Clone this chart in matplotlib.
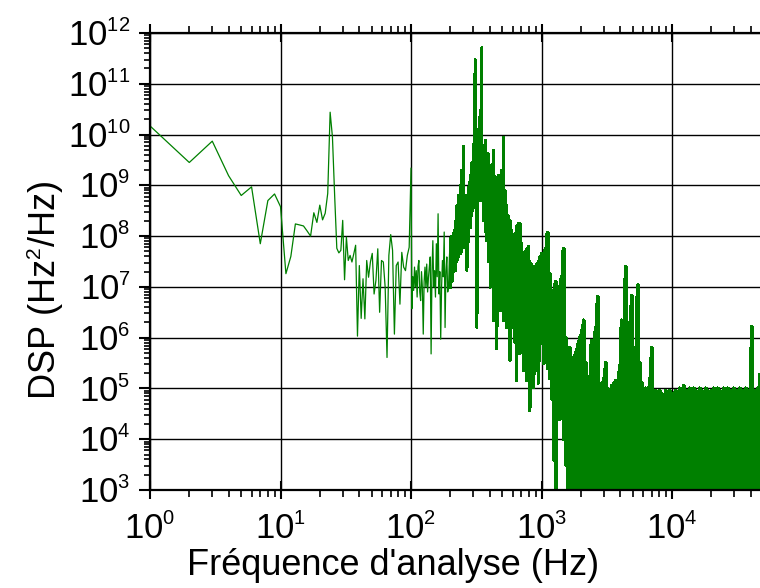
import numpy as np
import matplotlib
matplotlib.use("Agg")
import matplotlib.pyplot as plt
import matplotlib._mathtext as mathtext
from matplotlib.ticker import LogLocator, NullFormatter

plt.rcParams['font.family'] = ['Liberation Sans', 'DejaVu Sans']
plt.rcParams['mathtext.fontset'] = 'custom'
plt.rcParams['mathtext.rm'] = 'Liberation Sans'
plt.rcParams['mathtext.it'] = 'Liberation Sans:italic'
plt.rcParams['mathtext.bf'] = 'Liberation Sans:bold'
plt.rcParams['path.simplify'] = False
# exposants plus petits, comme sur l'original
mathtext.SHRINK_FACTOR = 0.58

# DSP, en exposant log10 (valeur = 10**exposant)

# 1 a 28 Hz, pas de 1 Hz
f_bas = np.arange(1, 29)
dsp_bas = [10.17, 9.45, 9.87, 9.19, 8.80, 8.97, 7.85, 8.70, 8.83, 8.58,
           7.26, 7.60, 8.24, 8.22, 8.20, 8.10, 8.00, 8.46, 8.27, 8.61,
           8.32, 8.45, 8.84, 10.44, 9.95, 8.79, 7.76, 7.67]

# 29 a 100 Hz
dsp_a1 = [7.72, 8.31, 7.14, 7.98, 7.52, 7.62, 7.49, 7.65, 7.82, 6.03,
          7.42, 6.38, 7.16, 6.37, 7.52, 7.19, 7.49, 7.66, 6.86, 7.13,
          7.75, 6.50, 7.52, 7.49, 6.99, 5.61, 7.62, 8.03, 7.72, 6.07,
          7.42, 7.49, 6.66, 7.68, 7.39, 7.32, 7.62, 7.78]

# 100 a 200 Hz (raie a 100 Hz en tete)
dsp_a2 = [9.34, 6.57, 7.20, 6.93, 7.39, 7.00, 7.32, 6.80, 7.40, 7.52,
          6.90, 6.73, 7.30, 6.99, 6.07, 7.10, 7.39, 7.00, 7.45, 6.90,
          7.19, 7.40, 7.59, 5.68, 7.30, 7.91, 7.00, 7.32, 6.80, 7.85,
          7.20, 8.44, 6.86, 7.30, 5.97, 7.00, 7.52, 7.20, 8.08, 6.20,
          7.30, 7.59, 6.90, 6.99, 7.60]

# 200 a 1000 Hz : enveloppe haute / basse du bruit
haut_b = [7.95, 8.00, 8.05, 8.28, 8.60, 8.80, 9.00, 9.30, 9.77, 8.80,
          8.64, 8.97, 9.20, 9.45, 9.80, 11.47, 9.89, 10.10, 10.48, 11.71,
          9.60, 9.89, 9.30, 9.62, 8.90, 9.40, 9.69, 9.17, 9.10, 9.20,
          9.00, 9.30, 9.95, 8.90, 8.60, 8.40, 8.30, 8.12, 7.90, 8.05,
          8.20, 8.25, 8.25, 7.86, 7.50, 7.70, 7.75, 7.80, 7.50, 7.45,
          7.40, 7.33, 7.45, 7.50, 7.59]
bas_b = [6.99, 7.10, 7.30, 7.32, 7.50, 7.60, 7.65, 7.70, 7.78, 7.90,
         7.32, 7.90, 8.17, 8.40, 8.57, 8.70, 6.20, 8.70, 8.75, 8.70,
         8.31, 8.10, 7.91, 7.50, 6.99, 7.20, 6.34, 7.00, 5.78, 6.90,
         6.53, 6.80, 6.34, 6.60, 6.20, 6.50, 5.55, 6.20, 6.34, 5.90,
         5.15, 6.00, 5.68, 5.90, 5.35, 5.80, 5.15, 5.60, 4.56, 5.40,
         5.02, 5.30, 5.35, 5.10, 5.55]

# 1 kHz a 47 kHz
haut_c = [7.65, 7.60, 7.75, 8.06, 7.26, 6.93, 6.80, 7.10, 6.67, 7.00,
          7.20, 7.75, 6.00, 5.75, 5.80, 5.61, 5.55, 5.70, 5.85, 6.00,
          6.14, 6.34, 5.50, 5.22, 5.10, 5.94, 5.55, 6.20, 6.80, 5.10,
          4.96, 5.20, 5.50, 5.00, 4.83, 5.05, 5.10, 5.15, 5.05, 5.45,
          6.34, 6.30, 7.39, 6.30, 6.00, 6.82, 5.80, 5.30, 7.03, 5.50,
          5.10, 4.95, 5.00, 4.90, 5.20, 5.80, 4.85, 4.95, 4.90, 4.95,
          4.90, 4.85, 4.95, 4.90, 4.95, 4.85, 4.90, 4.95, 4.90, 5.00,
          4.95, 5.05, 4.90, 4.95, 5.00, 4.90, 5.00, 4.95, 4.90, 5.00,
          4.95, 4.90, 5.00, 4.95, 4.85, 4.95, 5.00, 4.90, 5.00, 4.95,
          4.90, 5.00, 4.95, 5.00, 4.90, 4.95, 5.00, 4.90, 4.95, 5.00,
          4.90, 4.95, 5.00, 4.90, 4.95, 6.21, 4.90, 4.95, 5.00, 5.27]
bas_c = [5.90, 5.50, 5.80, 5.40, 5.20, 4.80, 3.60, 3.00, 4.50, 4.40,
         4.60, 4.00, 3.50, 2.80, 3.30, 2.50, 3.60, 2.70, 3.40, 2.60,
         3.20, 2.50, 3.50, 2.70, 3.10, 2.40, 3.60, 2.60, 3.00, 2.50,
         3.30, 2.60, 2.90, 3.40, 2.50, 2.80, 3.20, 2.40, 2.70, 3.00,
         2.50, 2.50, 2.70, 2.30, 2.80, 2.60, 2.40, 2.90, 2.50, 2.70,
         2.30, 2.60, 2.80, 2.40, 2.50, 2.90, 2.30, 2.60, 2.70, 2.40,
         2.80, 2.50, 2.30, 2.60, 2.90, 2.40, 2.70, 2.50, 2.30, 2.80,
         2.60, 2.40, 2.70, 2.50, 2.90, 2.30, 2.60, 2.80, 2.40, 2.50,
         2.70, 2.30, 2.60, 2.90, 2.40, 2.50, 2.80, 2.60, 2.30, 2.70,
         2.50, 2.40, 2.80, 2.60, 2.90, 2.30, 2.50, 2.70, 2.40, 2.60,
         2.80, 2.50, 2.30, 2.70, 2.60, 2.90, 2.40, 2.50, 2.80, 2.60]


def zigzag(f, haut, bas):
    # alterne haut / bas a chaque frequence
    return np.repeat(f, 2), np.column_stack((haut, bas)).ravel()


f_a1 = np.geomspace(29, 100, len(dsp_a1), endpoint=False)
f_a2 = np.geomspace(100, 200, len(dsp_a2), endpoint=False)
f_b, v_b = zigzag(np.geomspace(200, 1000, len(haut_b), endpoint=False), haut_b, bas_b)
f_c, v_c = zigzag(np.geomspace(1000, 47000, len(haut_c)), haut_c, bas_c)

freq = np.concatenate([f_bas, f_a1, f_a2, f_b, f_c])
dsp = 10.0 ** np.concatenate([dsp_bas, dsp_a1, dsp_a2, v_b, v_c])

fig = plt.figure(figsize=(7.6, 5.88), dpi=100)
ax = fig.add_axes([150 / 760, 98 / 588, 610 / 760, 457 / 588])

ax.plot(freq, dsp, color='#008000', lw=0.9)
# zones denses : trait plus epais, sans lissage, pour un remplissage plein
ax.plot(f_b, 10.0 ** v_b, color='#008000', lw=1.5, antialiased=False)
ax.plot(f_c, 10.0 ** v_c, color='#008000', lw=2.2, antialiased=False)

ax.set_xscale('log')
ax.set_yscale('log')
ax.set_xlim(1, 4.72e4)
ax.set_ylim(1e3, 1e12)
ax.yaxis.set_major_locator(LogLocator(base=10, numticks=15))
ax.yaxis.set_minor_locator(LogLocator(base=10, subs=np.arange(2, 10), numticks=15))
ax.yaxis.set_minor_formatter(NullFormatter())

ax.set_axisbelow(True)
ax.grid(True, which='major', color='black', lw=1.0)

for s in ['left', 'bottom', 'top']:
    ax.spines[s].set_linewidth(1.6)
ax.spines['right'].set_visible(False)

ax.tick_params(axis='both', labelsize=25, width=1.5)
ax.tick_params(axis='x', which='major', direction='inout', length=13, pad=10)
ax.tick_params(axis='x', which='minor', direction='out', length=5, width=1.2)
ax.tick_params(axis='y', which='major', direction='out', length=8, pad=6)
ax.tick_params(axis='y', which='minor', direction='out', length=4, width=1.2)
ax.tick_params(axis='x', which='both', top=True)

ax.set_xlabel("Fréquence d'analyse (Hz)", fontsize=26)
ax.set_ylabel("DSP (Hz$^2$/Hz)", fontsize=26)
ax.xaxis.set_label_coords(0.398, -0.128)
ax.yaxis.set_label_coords(-0.138, 0.4376)

fig.savefig('out.png', dpi=100)
